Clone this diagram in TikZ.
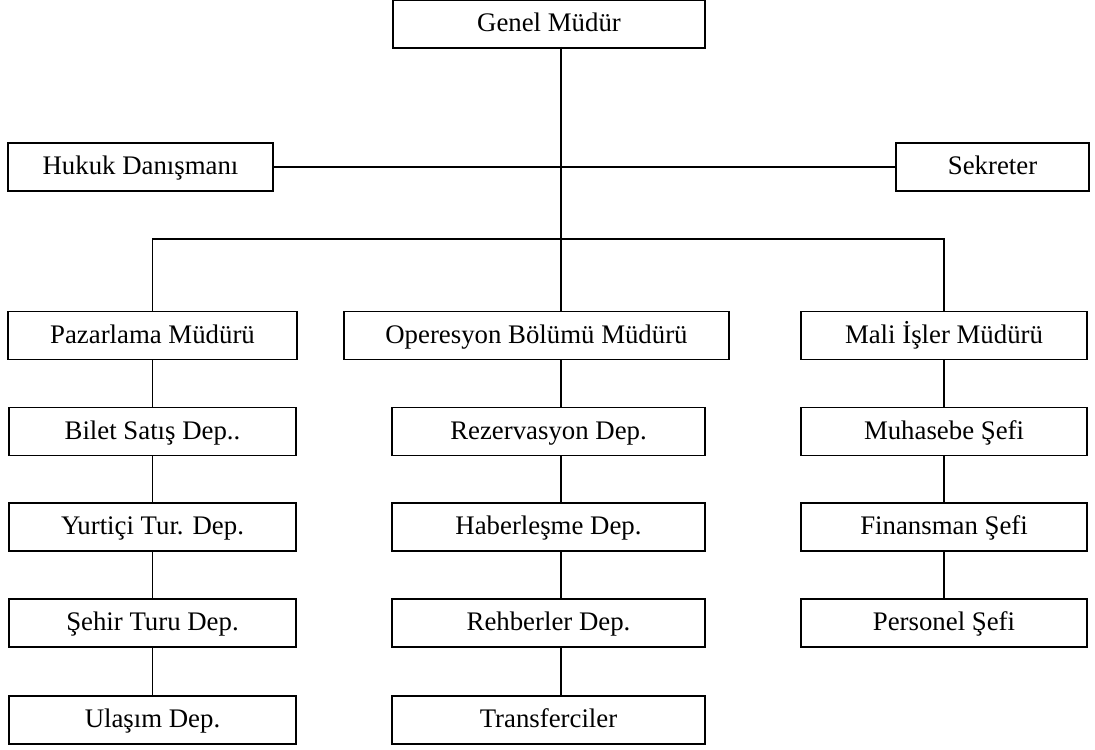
\documentclass[tikz,border=0pt]{standalone}
\usepackage{fontspec}
\setmainfont{Liberation Serif}

\tikzset{
    kutu/.style={draw, line width=0.9pt, rectangle, minimum height=24pt, inner sep=0pt,
        font=\fontsize{13.4}{16}\selectfont, text height=0.85em, text depth=0.07em},
    hat/.style={line width=0.9pt}
}

\begin{document}
\begin{tikzpicture}[x=0.5pt, y=-0.5pt]
    \useasboundingbox (0,0) rectangle (1095,749);
    % ust kademe
    \node[kutu, minimum width=156pt] (gm) at (549,24) {Genel Müdür};
    \node[kutu, minimum width=132.5pt] (hd) at (140.5,167) {Hukuk Danışmanı};
    \node[kutu, minimum width=96.5pt] (sk) at (992.5,167) {Sekreter};
    % mudurler
    \node[kutu, minimum width=144.5pt] (pm) at (152.5,335.5) {Pazarlama Müdürü};
    \node[kutu, minimum width=192.5pt] (om) at (536.5,335.5) {Operesyon Bölümü Müdürü};
    \node[kutu, minimum width=143pt] (mm) at (944,335.5) {Mali İşler Müdürü};
    % pazarlama
    \node[kutu, minimum width=143.5pt] (bs) at (152.5,431.5) {Bilet Satış Dep..};
    \node[kutu, minimum width=143.5pt] (yt) at (152.5,527) {Yurtiçi Tur. Dep.};
    \node[kutu, minimum width=143.5pt] (st) at (152.5,623) {Şehir Turu Dep.};
    \node[kutu, minimum width=143.5pt] (ul) at (152.5,720) {Ulaşım Dep.};
    % operesyon
    \node[kutu, minimum width=156.5pt] (rz) at (548.5,431.5) {Rezervasyon Dep.};
    \node[kutu, minimum width=156.5pt] (hb) at (548.5,527) {Haberleşme Dep.};
    \node[kutu, minimum width=156.5pt] (rh) at (548.5,623) {Rehberler Dep.};
    \node[kutu, minimum width=156.5pt] (tr) at (548.5,720) {Transferciler};
    % mali isler
    \node[kutu, minimum width=143pt] (mh) at (944,431.5) {Muhasebe Şefi};
    \node[kutu, minimum width=143pt] (fn) at (944,527) {Finansman Şefi};
    \node[kutu, minimum width=143pt] (ps) at (944,623) {Personel Şefi};

    \coordinate (t1) at (561,47);
    \coordinate (t2) at (561,239);
    \draw[hat] (t1) -- (t2);
    \draw[hat] (hd.east) -- (sk.west);
    \draw[hat] (pm.north) |- (mm.north |- t2) -- (mm.north);
    \draw[hat] (t2) -- (t2 |- om.north);

    \draw[hat] (pm.south) -- (bs.north);
    \draw[hat] (bs.south) -- (yt.north);
    \draw[hat] (yt.south) -- (st.north);
    \draw[hat] (st.south) -- (ul.north);

    \draw[hat] (om.south -| t2) -- (rz.north -| t2);
    \draw[hat] (rz.south -| t2) -- (hb.north -| t2);
    \draw[hat] (hb.south -| t2) -- (rh.north -| t2);
    \draw[hat] (rh.south -| t2) -- (tr.north -| t2);

    \draw[hat] (mm.south) -- (mh.north);
    \draw[hat] (mh.south) -- (fn.north);
    \draw[hat] (fn.south) -- (ps.north);
\end{tikzpicture}
\end{document}
